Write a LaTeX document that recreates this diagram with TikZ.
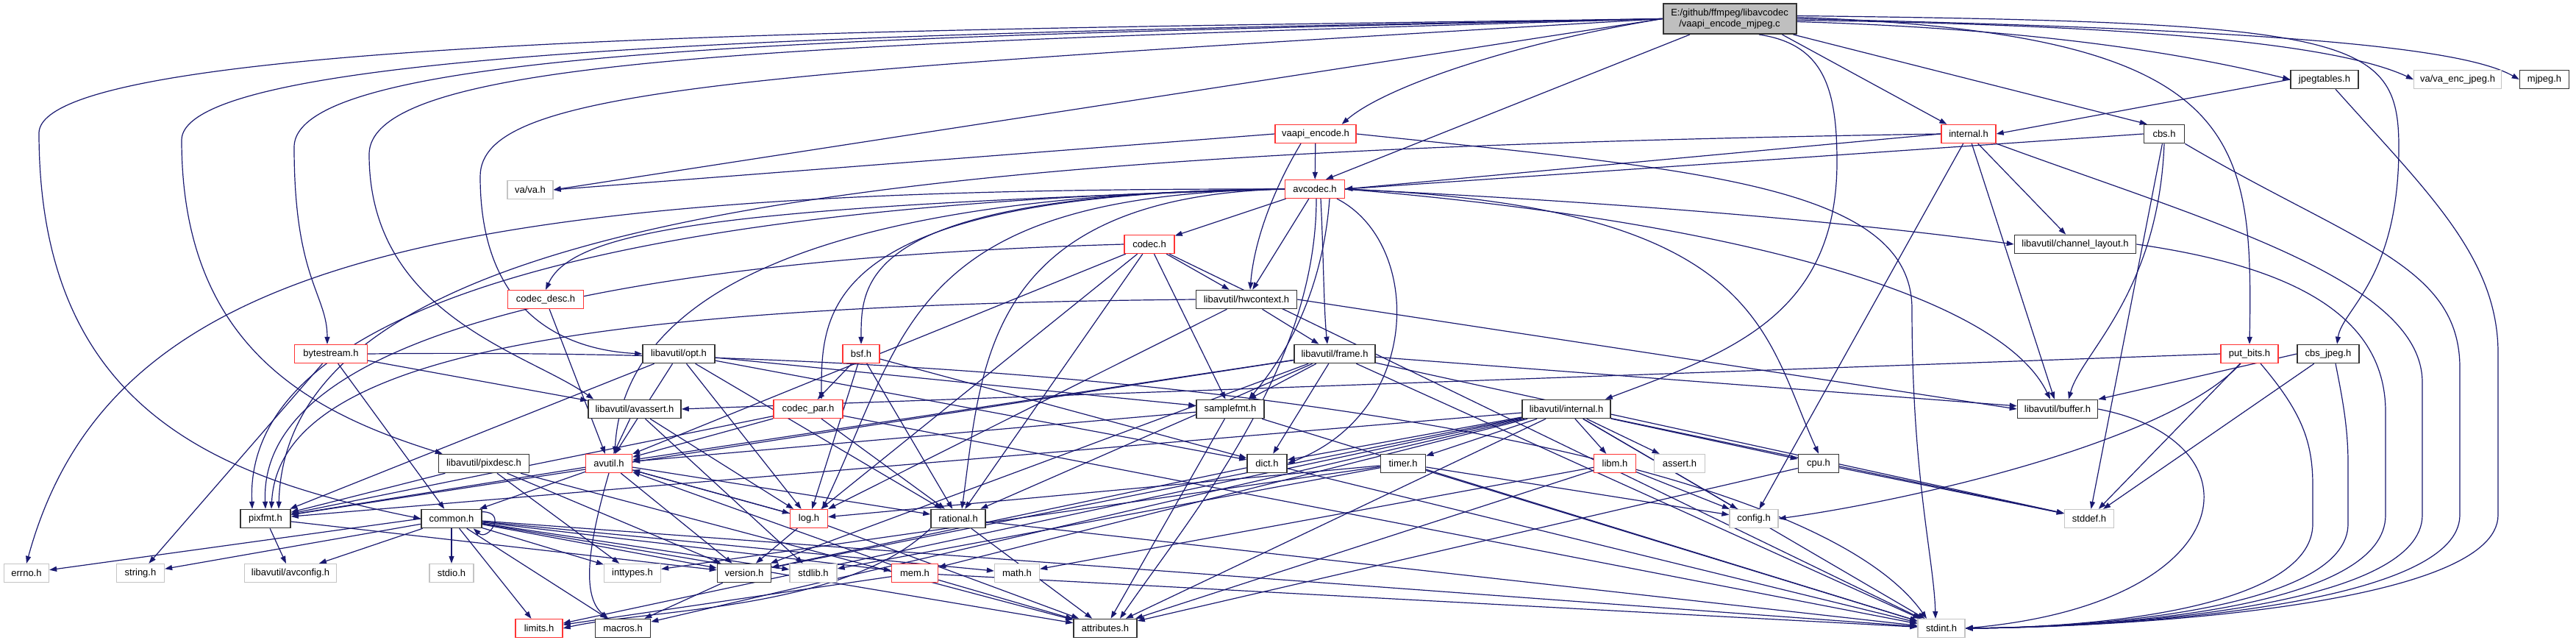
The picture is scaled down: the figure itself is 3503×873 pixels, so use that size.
\documentclass[tikz,border=0pt]{standalone}
\usepackage{fontspec}
\setmainfont{Liberation Sans}
\usetikzlibrary{arrows.meta}
\definecolor{depblue}{HTML}{191970}
\definecolor{cutred}{HTML}{FF3535}
\definecolor{sysgray}{HTML}{C4C4C4}
\definecolor{rootgray}{HTML}{BFBFBF}
\pgfdeclarelayer{bg}
\pgfdeclarelayer{edges}
\pgfsetlayers{bg,edges,main}
\begin{document}
\begin{tikzpicture}[x=1pt, y=-1pt,
  header/.style={draw=black!80, line width=1.6pt, fill=white, inner sep=0pt, minimum height=25pt, font=\fontsize{13}{15}\selectfont},
  cut/.style={header, draw=cutred, line width=1.3pt},
  sys/.style={header, draw=sysgray, line width=1.3pt},
  dep/.style={draw=depblue, line width=1.2pt, -{Triangle[length=10pt, width=7pt]}}]
\useasboundingbox (0,0) rectangle (3503,873);
\node[header, fill=rootgray, line width=2pt, minimum width=181pt, minimum height=41pt, align=center] (root) at (2352,25.5) {E:/github/ffmpeg/libavcodec\\/vaapi\_encode\_mjpeg.c};
\node[header, minimum width=92pt] (jpegtables) at (3161,108) {jpegtables.h};
\node[sys, minimum width=119pt] (vaenc) at (3342,108) {va/va\_enc\_jpeg.h};
\node[header, minimum width=67pt] (mjpeg) at (3460,108) {mjpeg.h};
\node[cut, minimum width=110pt] (vaapienc) at (1789,182) {vaapi\_encode.h};
\node[cut, minimum width=74pt] (lavcint) at (2677,182) {internal.h};
\node[header, minimum width=55pt] (cbs) at (2943,182) {cbs.h};
\node[sys, minimum width=62pt] (vava) at (721,258) {va/va.h};
\node[cut, minimum width=81pt] (avcodec) at (1788,257) {avcodec.h};
\node[cut, minimum width=68pt] (codec) at (1563,332) {codec.h};
\node[header, minimum width=165pt] (chlayout) at (2822,332) {libavutil/channel\_layout.h};
\node[cut, minimum width=103pt] (codecdesc) at (742,407) {codec\_desc.h};
\node[header, minimum width=137pt] (hwctx) at (1695,407) {libavutil/hwcontext.h};
\node[cut, minimum width=99pt] (bytestream) at (450,481) {bytestream.h};
\node[header, minimum width=98pt] (opt) at (923,481) {libavutil/opt.h};
\node[cut, minimum width=50pt] (bsf) at (1171,481) {bsf.h};
\node[header, minimum width=110pt] (frame) at (1815,481) {libavutil/frame.h};
\node[cut, minimum width=78pt] (putbits) at (3059,481) {put\_bits.h};
\node[header, minimum width=84pt] (cbsjpeg) at (3166,481) {cbs\_jpeg.h};
\node[header, minimum width=126pt] (avassert) at (863,556) {libavutil/avassert.h};
\node[cut, minimum width=94pt] (codecpar) at (1099,556) {codec\_par.h};
\node[header, minimum width=92pt] (samplefmt) at (1673,556) {samplefmt.h};
\node[header, minimum width=120pt] (lavuint) at (2130,556) {libavutil/internal.h};
\node[header, minimum width=109pt] (buffer) at (2798,556) {libavutil/buffer.h};
\node[header, minimum width=123pt] (pixdesc) at (658,630) {libavutil/pixdesc.h};
\node[cut, minimum width=63pt] (avutil) at (828,630) {avutil.h};
\node[header, minimum width=54pt] (dict) at (1723,630) {dict.h};
\node[header, minimum width=61pt] (timer) at (1908,630) {timer.h};
\node[cut, minimum width=57pt] (libm) at (2196,630) {libm.h};
\node[sys, minimum width=69pt] (assert) at (2284,630) {assert.h};
\node[header, minimum width=55pt] (cpu) at (2473,630) {cpu.h};
\node[header, minimum width=68pt] (pixfmt) at (361,705) {pixfmt.h};
\node[header, minimum width=82pt] (common) at (614,705) {common.h};
\node[cut, minimum width=51pt] (log) at (1100,705) {log.h};
\node[header, minimum width=74pt] (rational) at (1303,705) {rational.h};
\node[sys, minimum width=66pt] (config) at (2385,705) {config.h};
\node[sys, minimum width=67pt] (stddef) at (2841,705) {stddef.h};
\node[sys, minimum width=61pt] (errno) at (36,779) {errno.h};
\node[sys, minimum width=65pt] (string) at (191,779) {string.h};
\node[sys, minimum width=125pt] (avconfig) at (395,779) {libavutil/avconfig.h};
\node[sys, minimum width=60pt] (stdio) at (614,779) {stdio.h};
\node[sys, minimum width=77pt] (inttypes) at (860,779) {inttypes.h};
\node[header, minimum width=73pt] (version) at (1012,779) {version.h};
\node[sys, minimum width=64pt] (stdlib) at (1106,779) {stdlib.h};
\node[cut, minimum width=63pt] (mem) at (1244,779) {mem.h};
\node[sys, minimum width=61pt] (math) at (1383,779) {math.h};
\node[cut, minimum width=64pt] (limits) at (733,854) {limits.h};
\node[header, minimum width=75pt] (macros) at (847,854) {macros.h};
\node[header, minimum width=86pt] (attributes) at (1503,854) {attributes.h};
\node[sys, minimum width=64pt] (stdint) at (2640,854) {stdint.h};
\begin{pgfonlayer}{bg}
\fill[white] (0,0) rectangle (3503,873);
\end{pgfonlayer}
\begin{pgfonlayer}{edges}
\draw[dep] (root.west) .. controls (1300,40) and (60,45) .. (53,180) .. controls (53,560) and (300,650) .. (common.west);
\draw[dep] (root.west) .. controls (1250,45) and (250,60) .. (247,190) .. controls (247,470) and (420,560) .. ([xshift=6pt]pixdesc.north west);
\draw[dep] (root.west) .. controls (1150,50) and (400,65) .. (400,200) .. controls (400,380) and (445,400) .. ([xshift=-5pt]bytestream.north);
\draw[dep] (root.west) .. controls (1100,60) and (502,75) .. (502,210) .. controls (502,430) and (720,480) .. ([xshift=8pt]avassert.north west);
\draw[dep] (root.west) .. controls (1000,100) and (653,120) .. (653,240) .. controls (653,420) and (760,475) .. (opt.west);
\draw[dep] (root.west) -- (vava.east);
\draw[dep] (root.west) .. controls (2050,60) and (1880,120) .. ([xshift=-20pt]vaapienc.north east);
\draw[dep] (root) -- ([xshift=15pt]avcodec.north);
\draw[dep] ([xshift=-20pt]root.south east) -- ([xshift=8pt]lavcint.north west);
\draw[dep] ([xshift=-5pt]root.south east) -- ([xshift=5pt]cbs.north west);
\draw[dep] ([yshift=-4pt]root.east) .. controls (2800,40) and (3000,80) .. (jpegtables.west);
\draw[dep] ([yshift=-2pt]root.east) .. controls (3000,35) and (3200,70) .. (vaenc.west);
\draw[dep] (root.east) .. controls (3100,40) and (3350,65) .. (mjpeg.west);
\draw[dep] ([yshift=2pt]root.east) .. controls (3050,45) and (3064,180) .. (putbits.north);
\draw[dep] ([yshift=4pt]root.east) .. controls (3200,30) and (3262,50) .. (3262,200) .. controls (3262,380) and (3185,420) .. ([xshift=12pt]cbsjpeg.north);
\draw[dep] ([xshift=40pt]root.south) .. controls (2480,60) and (2498,120) .. (2498,220) .. controls (2498,430) and (2350,480) .. ([xshift=-8pt]lavuint.north east);
\draw[dep] (vaapienc.west) -- (vava.east);
\draw[dep] (vaapienc) -- (avcodec);
\draw[dep] ([xshift=-20pt]vaapienc.south) .. controls (1730,260) and (1705,330) .. ([xshift=5pt]hwctx.north);
\draw[dep] (vaapienc.east) .. controls (2300,230) and (2600,250) .. (2600,420) .. controls (2600,650) and (2630,760) .. ([xshift=-8pt]stdint.north);
\draw[dep] (jpegtables.west) -- (lavcint.east);
\draw[dep] ([xshift=15pt]jpegtables.south) .. controls (3300,260) and (3397,350) .. (3397,480) -- (3397,700) .. controls (3397,822) and (2900,852) .. (stdint.east);
\draw[dep] (cbs.west) -- (avcodec.east);
\draw[dep] (cbs.south) .. controls (2935,400) and (2830,480) .. ([xshift=15pt]buffer.north);
\draw[dep] (cbs) -- (stddef);
\draw[dep] (cbs.south east) .. controls (3200,330) and (3345,360) .. (3345,500) -- (3345,700) .. controls (3345,822) and (2900,852) .. (stdint.east);
\draw[dep] (lavcint.west) -- (avcodec.east);
\draw[dep] (lavcint.west) .. controls (1200,205) and (390,290) .. ([xshift=18pt]pixfmt.north);
\draw[dep] (lavcint) -- (chlayout);
\draw[dep] (lavcint) -- (buffer);
\draw[dep] (lavcint) -- (config);
\draw[dep] (lavcint.south east) .. controls (3000,300) and (3294,380) .. (3294,520) -- (3294,700) .. controls (3294,822) and (2900,852) .. (stdint.east);
\draw[dep] (avcodec.west) .. controls (600,255) and (150,350) .. (errno.north);
\draw[dep] (avcodec.west) .. controls (900,275) and (330,400) .. ([xshift=-18pt]pixfmt.north);
\draw[dep] (avcodec.west) .. controls (1000,280) and (780,310) .. (codecdesc.north);
\draw[dep] (avcodec.west) .. controls (1000,265) and (845,450) .. ([xshift=8pt]avutil.north);
\draw[dep] (avcodec.west) .. controls (1117,262) and (1117,420) .. ([xshift=18pt]codecpar.north);
\draw[dep] (avcodec.west) .. controls (1171,262) and (1171,380) .. (bsf.north);
\draw[dep] (avcodec.west) .. controls (1234,265) and (1234,450) .. ([xshift=-8pt]log.north east);
\draw[dep] (avcodec.west) .. controls (1335,268) and (1335,500) .. ([xshift=5pt]rational.north);
\draw[dep] (avcodec) -- (codec);
\draw[dep] (avcodec) -- (hwctx);
\draw[dep] ([xshift=20pt]avcodec.south) .. controls (1800,380) and (1760,470) .. ([xshift=25pt]samplefmt.north);
\draw[dep] ([xshift=8pt]avcodec.south) .. controls (1800,350) and (1800,420) .. ([xshift=-10pt]frame.north);
\draw[dep] ([xshift=30pt]avcodec.south) .. controls (1935,330) and (1935,560) .. (dict.east);
\draw[dep] ([xshift=2pt]avcodec.south) .. controls (1790,500) and (1620,700) .. ([xshift=20pt]attributes.north);
\draw[dep] (avcodec.east) .. controls (2200,275) and (2500,300) .. (chlayout.west);
\draw[dep] (avcodec.east) .. controls (2397,280) and (2397,450) .. (cpu.north);
\draw[dep] (avcodec.east) .. controls (2350,300) and (2720,400) .. ([xshift=-10pt]buffer.north);
\draw[dep] (codec.west) .. controls (900,350) and (350,440) .. (pixfmt.north);
\draw[dep] (codec) -- (avutil);
\draw[dep] (codec) -- (hwctx);
\draw[dep] (codec) -- (log);
\draw[dep] (codec) -- (rational);
\draw[dep] (codec) -- (samplefmt);
\draw[dep] (codec) -- (stdint);
\draw[dep] (chlayout.east) .. controls (3100,360) and (3244,420) .. (3244,560) -- (3244,700) .. controls (3244,822) and (2900,852) .. (stdint.east);
\draw[dep] (codecdesc) -- (avutil);
\draw[dep] (hwctx) -- (frame);
\draw[dep] (hwctx.east) -- (buffer.west);
\draw[dep] (hwctx) -- (log);
\draw[dep] (hwctx.west) .. controls (800,415) and (380,480) .. ([xshift=8pt]pixfmt.north);
\draw[dep] (bytestream) -- (avassert);
\draw[dep] (bytestream) -- (common);
\draw[dep] (bytestream) -- (string);
\draw[dep] (bytestream.east) .. controls (1500,470) and (2450,600) .. ([xshift=-20pt]stdint.north);
\draw[dep] (opt) -- (avutil);
\draw[dep] (opt) -- (dict);
\draw[dep] (opt) -- (log);
\draw[dep] (opt) -- (pixfmt);
\draw[dep] (opt) -- (rational);
\draw[dep] (opt) -- (samplefmt);
\draw[dep] (bsf) -- (codecpar);
\draw[dep] (bsf) -- (dict);
\draw[dep] (bsf) -- (log);
\draw[dep] (bsf) -- (rational);
\draw[dep] (frame) -- (avutil);
\draw[dep] (frame) -- (buffer);
\draw[dep] (frame) -- (dict);
\draw[dep] (frame) -- (pixfmt);
\draw[dep] (frame) -- (rational);
\draw[dep] (frame) -- (samplefmt);
\draw[dep] (frame) -- (stddef);
\draw[dep] (frame) -- (stdint);
\draw[dep] (frame) -- (version);
\draw[dep] (putbits.west) -- (avassert.east);
\draw[dep] (putbits) .. controls (2950,600) and (2600,680) .. (config.east);
\draw[dep] (putbits) -- (stddef);
\draw[dep] ([xshift=15pt]putbits.south) .. controls (3130,560) and (3145,600) .. (3145,660) -- (3145,712) .. controls (3145,815) and (2900,852) .. (stdint.east);
\draw[dep] (cbsjpeg.west) -- (buffer.north east);
\draw[dep] (cbsjpeg) -- (stddef);
\draw[dep] ([xshift=10pt]cbsjpeg.south) .. controls (3185,540) and (3193,580) .. (3193,630) -- (3193,712) .. controls (3193,818) and (2900,852) .. (stdint.east);
\draw[dep] (avassert) -- (avutil);
\draw[dep] (avassert) -- (log);
\draw[dep] (avassert) -- (stdlib);
\draw[dep] (codecpar) -- (avutil);
\draw[dep] (codecpar) -- (pixfmt);
\draw[dep] (codecpar) -- (rational);
\draw[dep] (codecpar) -- (stdint);
\draw[dep] (samplefmt) -- (avutil);
\draw[dep] (samplefmt) -- (attributes);
\draw[dep] (samplefmt) -- (stdint);
\draw[dep] (lavuint) -- (dict);
\draw[dep] (lavuint) -- (timer);
\draw[dep] (lavuint) -- (libm);
\draw[dep] (lavuint) -- (assert);
\draw[dep] (lavuint) -- (config);
\draw[dep] (lavuint) -- (cpu);
\draw[dep] (lavuint) -- (stddef);
\draw[dep] (lavuint) -- (stdint);
\draw[dep] (lavuint) -- (pixfmt);
\draw[dep] (lavuint) -- (version);
\draw[dep] (lavuint) -- (mem);
\draw[dep] (lavuint) -- (macros);
\draw[dep] (lavuint) -- (limits);
\draw[dep] (lavuint) -- (attributes);
\draw[dep] (buffer.east) .. controls (3080,600) and (3050,820) .. (stdint.east);
\draw[dep] (avutil) -- (common);
\draw[dep] (avutil) -- (pixfmt);
\draw[dep] (avutil) -- (log);
\draw[dep] (avutil) -- (rational);
\draw[dep] (avutil) -- (version);
\draw[dep] (avutil.south) .. controls (800,740) and (790,810) .. ([xshift=-20pt]macros.north);
\draw[dep] (pixdesc) -- (pixfmt);
\draw[dep] (pixdesc) -- (inttypes);
\draw[dep] (pixdesc) -- (version);
\draw[dep] (pixdesc) -- (attributes);
\draw[dep] (dict) -- (stdint);
\draw[dep] (dict) -- (version);
\draw[dep] (timer) -- (config);
\draw[dep] (timer) -- (log);
\draw[dep] (timer) -- (stdlib);
\draw[dep] (timer) -- (inttypes);
\draw[dep] (timer) -- (stdint);
\draw[dep] (libm) -- (config);
\draw[dep] (libm) -- (math);
\draw[dep] (libm) -- (attributes);
\draw[dep] (cpu) -- (stddef);
\draw[dep] (cpu) -- (attributes);
\draw[dep] (pixfmt) -- (avconfig);
\draw[dep] (pixfmt) -- (version);
\draw[dep] ([yshift=-4pt]common.north east) .. controls +(35,0) and +(20,18) .. ([xshift=-12pt]common.south east);
\draw[dep] (common.west) -- (errno);
\draw[dep] (common) -- (string);
\draw[dep] (common) -- (avconfig);
\draw[dep] (common) -- (stdio);
\draw[dep] (common) -- (inttypes);
\draw[dep] (common) -- (limits);
\draw[dep] (common) -- (macros);
\draw[dep] (common) -- (version);
\draw[dep] (common) -- (stdlib);
\draw[dep] (common) -- (math);
\draw[dep] (common) -- (mem);
\draw[dep] (common) -- (attributes);
\draw[dep] (common) -- (stdint);
\draw[dep] (log) -- (avutil);
\draw[dep] (log) -- (attributes);
\draw[dep] (log) -- (version);
\draw[dep] (rational) -- (stdint);
\draw[dep] (rational.south west) .. controls (1150,830) and (880,828) .. (limits.east);
\draw[dep] (rational) -- (attributes);
\draw[dep] (mem) -- (limits);
\draw[dep] (mem) -- (stdint);
\draw[dep] (mem) -- (attributes);
\draw[dep] (mem) -- (avutil);
\draw[dep] (version) -- (macros);
\end{pgfonlayer}
\end{tikzpicture}
\end{document}
